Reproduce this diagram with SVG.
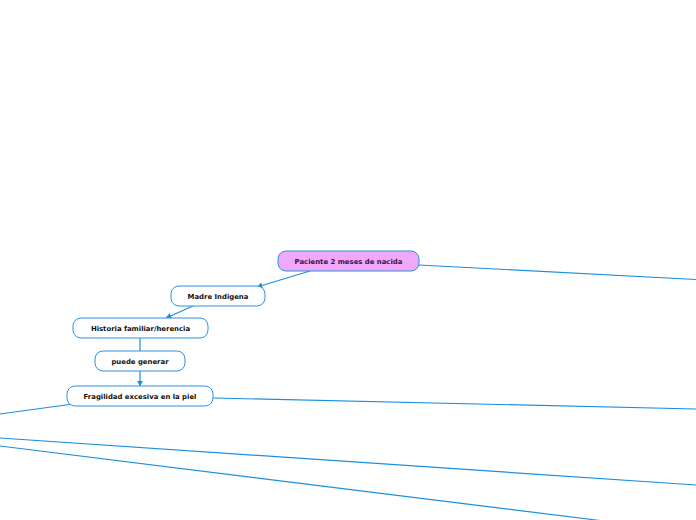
<svg xmlns="http://www.w3.org/2000/svg" width="696" height="520" viewBox="0 0 696 520">
<style>
.n{fill:#ffffff;stroke:#2a93e0;stroke-width:1}
.r{fill:#f0a8f8;stroke:#2a93e0;stroke-width:1}
.t{font-family:"DejaVu Sans",Verdana,sans-serif;font-weight:bold;font-size:6.9px;fill:#111;text-anchor:middle}
.tr{fill:#3a1050}
.c{fill:none;stroke:#1a8fe0;stroke-width:1.2}
</style>
<defs>
<marker id="a" viewBox="0 0 10 10" refX="9" refY="5" markerWidth="6" markerHeight="6" orient="auto" markerUnits="userSpaceOnUse">
<path d="M0,0 L10,5 L0,10 z" fill="#1a8fe0"/>
</marker>
</defs>
<g id="connectors">
<line class="c" x1="310" y1="271" x2="257" y2="287" marker-end="url(#a)"/>
<line class="c" x1="193" y1="306" x2="166" y2="318" marker-end="url(#a)"/>
<line class="c" x1="140" y1="338" x2="140" y2="351"/>
<line class="c" x1="140" y1="371" x2="140" y2="386" marker-end="url(#a)"/>
<line class="c" x1="419" y1="265" x2="696" y2="279.5"/>
<line class="c" x1="213" y1="398" x2="696" y2="409"/>
<line class="c" x1="73" y1="404" x2="0" y2="414"/>
<line class="c" x1="0" y1="438" x2="696" y2="485"/>
<line class="c" x1="0" y1="446" x2="600" y2="520.5"/>
</g>
<g id="n1">
<rect class="r" x="278" y="251" width="141" height="20" rx="8"/>
<text class="t tr" x="348.5" y="263.5">Paciente 2 meses de nacida</text>
</g>
<g id="n2">
<rect class="n" x="171" y="286" width="94" height="20" rx="8"/>
<text class="t" x="218" y="298.5">Madre Indigena</text>
</g>
<g id="n3">
<rect class="n" x="73" y="318" width="135" height="20" rx="8"/>
<text class="t" x="140.5" y="330.5">Historia familiar/herencia</text>
</g>
<g id="n4">
<rect class="n" x="95" y="351" width="90" height="20" rx="8"/>
<text class="t" x="140" y="363.5">puede generar</text>
</g>
<g id="n5">
<rect class="n" x="67" y="386" width="146" height="20" rx="8"/>
<text class="t" x="140" y="398.5">Fragilidad excesiva en la piel</text>
</g>
</svg>
